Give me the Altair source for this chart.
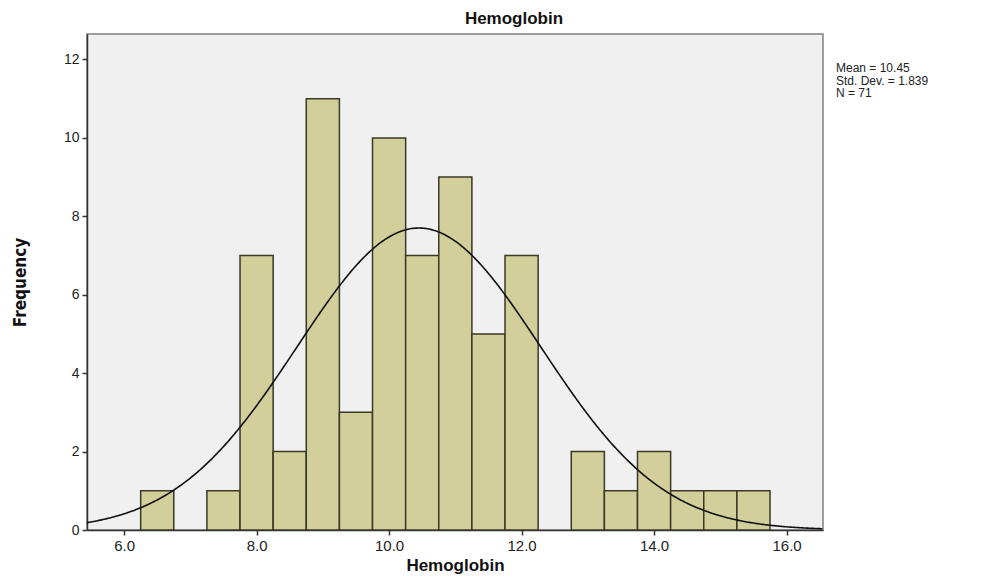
import altair as alt
import pandas as pd

# Histogram bins (width 0.5) and counts
bin_starts = [6.25, 7.25, 7.75, 8.25, 8.75, 9.25, 9.75, 10.25, 10.75, 11.25, 11.75,
              12.75, 13.25, 13.75, 14.25, 14.75, 15.25]
counts = [1, 1, 7, 2, 11, 3, 10, 7, 9, 5, 7, 2, 1, 2, 1, 1, 1]
bin_width = 0.5

# Summary statistics shown in the legend
mean = 10.45
sd = 1.839
n = 71
stats_lines = ["Mean = 10.45", "Std. Dev. = 1.839", "N = 71"]

x_ticks = [6, 8, 10, 12, 14, 16]
y_ticks = [0, 2, 4, 6, 8, 10, 12]
x_domain = [5.44, 16.55]
y_domain = [0, 12.65]

bars_df = pd.DataFrame({
    "start": bin_starts,
    "end": [s + bin_width for s in bin_starts],
    "count": counts,
})
stats_df = pd.DataFrame({"line": stats_lines, "row": list(range(len(stats_lines)))})

FONT = "Liberation Sans"

xscale = alt.Scale(domain=x_domain, nice=False, zero=False)
yscale = alt.Scale(domain=y_domain, nice=False)

bars = alt.Chart(bars_df).mark_rect(
    fill="#D3CF9B", stroke="#3a3826", strokeWidth=1.5, opacity=1
).encode(
    x=alt.X("start:Q", scale=xscale,
            axis=alt.Axis(values=x_ticks, format=".1f", title="Hemoglobin",
                          grid=False, tickSize=5, tickColor="#333", domainColor="#333",
                          domainWidth=1.5, tickWidth=1.5,
                          labelFont=FONT, labelFontSize=15, labelColor="#222",
                          labelPadding=3,
                          titleFont=FONT, titleFontSize=17, titleFontWeight="bold",
                          titleColor="#111", titlePadding=4)),
    x2="end:Q",
    y=alt.Y("count:Q", scale=yscale,
            axis=alt.Axis(values=y_ticks, title="Frequency", grid=False,
                          tickSize=5, tickColor="#333", domainColor="#333",
                          domainWidth=1.5, tickWidth=1.5,
                          labelFont=FONT, labelFontSize=14, labelColor="#222",
                          labelPadding=3,
                          titleFont="DejaVu Sans Condensed, Liberation Sans", titleFontSize=17,
                          titleFontWeight="bold", titleColor="#111", titlePadding=34)),
    y2=alt.datum(0),
)

peak = n * bin_width / (sd * (2 * 3.141592653589793) ** 0.5)

curve = alt.Chart(alt.sequence(x_domain[0], x_domain[1] + 0.001, 0.02, as_="x")).transform_calculate(
    y=f"{peak} * exp(-0.5 * pow((datum.x - {mean}) / {sd}, 2))"
).mark_line(color="#111", strokeWidth=1.6, clip=True).encode(
    x=alt.X("x:Q", scale=xscale),
    y=alt.Y("y:Q", scale=yscale),
)

stats = alt.Chart(stats_df).transform_calculate(
    py="34 + datum.row * 12.5"
).mark_text(
    align="left", baseline="middle", font=FONT, fontSize=12, color="#222"
).encode(
    x=alt.value(749),
    y=alt.Y("py:Q", scale=None, axis=None),
    text="line:N",
)

chart = alt.layer(bars, curve, stats).properties(
    width=736, height=496,
    background="white",
    title=alt.TitleParams("Hemoglobin", font=FONT, fontSize=17, fontWeight="bold",
                          color="#111", anchor="middle", dx=59, offset=6),
    padding={"left": 79, "top": 26, "right": 140, "bottom": 46},
    autosize=alt.AutoSizeParams(type="none"),
).configure_view(
    fill="#F0F0F0", stroke="#808080", strokeWidth=1.5
)

chart.save("out.html", embed_options={"renderer": "svg", "actions": False})
